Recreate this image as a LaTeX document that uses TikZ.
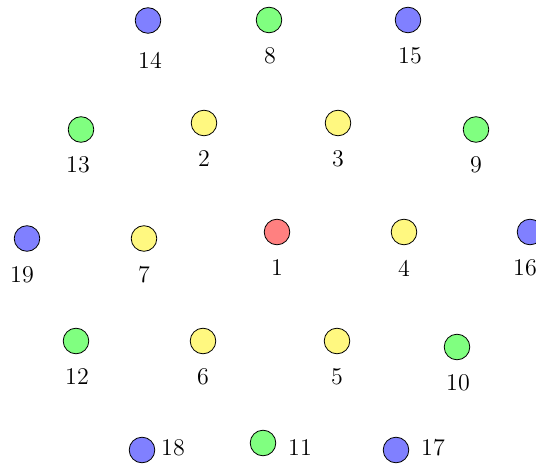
\documentclass[tikz,border=0pt]{standalone}
\usepackage{fontspec}
\begin{document}
\begin{tikzpicture}[x=0.5pt,y=-0.5pt,
  vtx/.style={circle,draw=black,line width=0.4pt,minimum size=12.8pt,inner sep=0pt},
  vb/.style={vtx,fill=blue!50},
  vg/.style={vtx,fill=green!50},
  vy/.style={vtx,fill=yellow!50},
  vr/.style={vtx,fill=red!50},
  lbl/.style={inner sep=0pt,font=\fontsize{12}{14}\selectfont}]
\useasboundingbox (0,0) rectangle (536,465);
% row 1
\node[vb] (n14) at (148,20.5) {};
\node[lbl] (l14) at (150,60) {14};
\node[vg] (n8) at (269,20) {};
\node[lbl] (l8) at (270,55.5) {8};
\node[vb] (n15) at (408,20) {};
\node[lbl] (l15) at (410,55.5) {15};
% row 2
\node[vg] (n13) at (81,129.5) {};
\node[lbl] (l13) at (78,165) {13};
\node[vy] (n2) at (204,123) {};
\node[lbl] (l2) at (204,159) {2};
\node[vy] (n3) at (338,123) {};
\node[lbl] (l3) at (338,159) {3};
\node[vg] (n9) at (476,129.5) {};
\node[lbl] (l9) at (476,165) {9};
% row 3
\node[vb] (n19) at (27,238.5) {};
\node[lbl] (l19) at (22,274.5) {19};
\node[vy] (n7) at (144,238.5) {};
\node[lbl] (l7) at (144,274.5) {7};
\node[vr] (n1) at (277,232) {};
\node[lbl] (l1) at (277,268) {1};
\node[vy] (n4) at (404,232) {};
\node[lbl] (l4) at (404,268) {4};
\node[vb] (n16) at (530,232) {};
\node[lbl] (l16) at (525,268) {16};
% row 4
\node[vg] (n12) at (76,341) {};
\node[lbl] (l12) at (77,377) {12};
\node[vy] (n6) at (203,341) {};
\node[lbl] (l6) at (203,377) {6};
\node[vy] (n5) at (337,341) {};
\node[lbl] (l5) at (337,377) {5};
\node[vg] (n10) at (457,347) {};
\node[lbl] (l10) at (458,383) {10};
% row 5
\node[vb] (n18) at (142,450) {};
\node[lbl] (l18) at (173,448) {18};
\node[vg] (n11) at (263,443) {};
\node[lbl] (l11) at (300,448) {11};
\node[vb] (n17) at (396,450) {};
\node[lbl] (l17) at (433,448) {17};
\end{tikzpicture}
\end{document}
